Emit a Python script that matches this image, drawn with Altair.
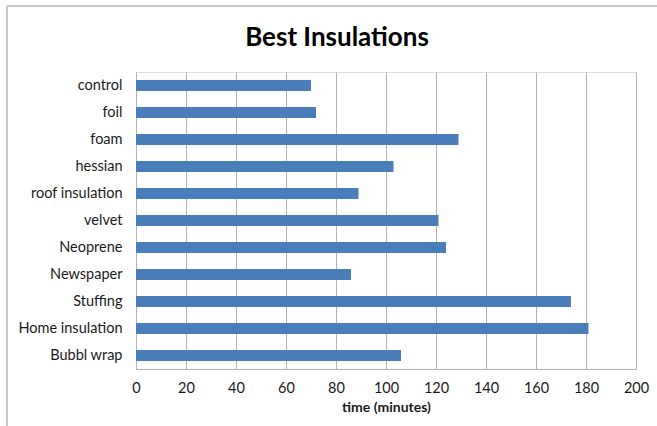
import altair as alt
import pandas as pd

categories = ["control", "foil", "foam", "hessian", "roof insulation", "velvet",
              "Neoprene", "Newspaper", "Stuffing ", "Home insulation", "Bubbl wrap"]
times = [70, 72, 129, 103, 89, 121, 124, 86, 174, 181, 106]
x_ticks = [0, 20, 40, 60, 80, 100, 120, 140, 160, 180, 200]

df = pd.DataFrame({"material": categories, "time": times})

FONT = "Lato"

bars = alt.Chart(df).mark_bar(color="#4a7ebb").encode(
    x=alt.X("time:Q",
            scale=alt.Scale(domain=[0, 200], nice=False),
            axis=alt.Axis(values=x_ticks, title="time (minutes)", grid=True,
                          gridColor="#b3b3b3", domainColor="#b3b3b3",
                          ticks=False, labelFontSize=14.5, labelColor="#1a1a1a",
                          labelPadding=12, labelFont=FONT, labelFlush=False,
                          titleFont=FONT, titleFontSize=14, titleFontWeight="bold",
                          titleColor="#1a1a1a", titlePadding=6)),
    y=alt.Y("material:N", sort=categories,
            scale=alt.Scale(paddingInner=0.6, paddingOuter=0.3),
            axis=alt.Axis(title=None, ticks=False, domainColor="#b3b3b3",
                          labelFontSize=14.5, labelColor="#1a1a1a", labelFont=FONT,
                          labelPadding=14)),
)

# chart-area border (left and top edges)
border_left = alt.Chart(df).mark_rule(color="#c8c8c8", strokeWidth=2).encode(
    x=alt.value(-129), y=alt.value(-66), y2=alt.value(360))
border_top = alt.Chart(df).mark_rule(color="#c8c8c8", strokeWidth=2).encode(
    x=alt.value(-129), x2=alt.value(530), y=alt.value(-66))

chart = alt.layer(bars, border_left, border_top).properties(
    width=500,
    height=297,
    title=alt.TitleParams("Best Insulations", fontSize=26, font=FONT,
                          fontWeight="bold", color="#000000", dx=-49,
                          offset=0, dy=46),
    autosize=alt.AutoSizeParams(type="none"),
    padding={"left": 136, "top": 72, "right": 21, "bottom": 57},
).configure_view(stroke=None).configure(background="white")

chart.save("out.html", embed_options={"renderer": "svg", "actions": False})
